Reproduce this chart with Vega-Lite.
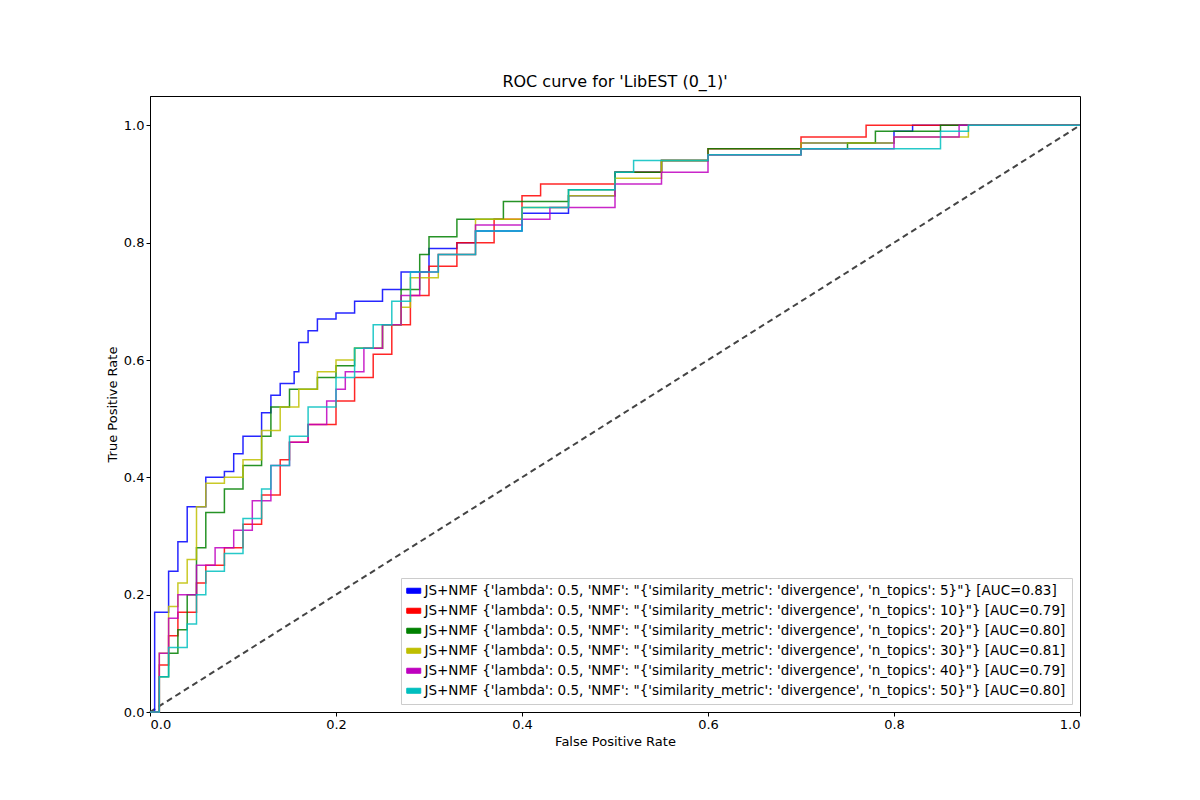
{
"$schema":"https://vega.github.io/schema/vega-lite/v6.json",
"width":930,"height":616,"autosize":"none",
"padding":{"left":150,"top":96,"right":120,"bottom":88},
"background":"white",
"title":{"text":"ROC curve for 'LibEST (0_1)'","fontSize":16,"fontWeight":"normal","font":"DejaVu Sans","offset":6},
"config":{"font":"DejaVu Sans","view":{"stroke":"black","strokeWidth":1},
"axis":{"grid":false,"labelFontSize":13,"titleFontSize":13,"titleFontWeight":"normal","domainColor":"black","tickColor":"black","labelColor":"black","tickSize":4}},
"datasets":{
"labels":[
{"n":5,"label":"JS+NMF {'lambda': 0.5, 'NMF': \"{'similarity_metric': 'divergence', 'n_topics': 5}\"} [AUC=0.83]"},
{"n":10,"label":"JS+NMF {'lambda': 0.5, 'NMF': \"{'similarity_metric': 'divergence', 'n_topics': 10}\"} [AUC=0.79]"},
{"n":20,"label":"JS+NMF {'lambda': 0.5, 'NMF': \"{'similarity_metric': 'divergence', 'n_topics': 20}\"} [AUC=0.80]"},
{"n":30,"label":"JS+NMF {'lambda': 0.5, 'NMF': \"{'similarity_metric': 'divergence', 'n_topics': 30}\"} [AUC=0.81]"},
{"n":40,"label":"JS+NMF {'lambda': 0.5, 'NMF': \"{'similarity_metric': 'divergence', 'n_topics': 40}\"} [AUC=0.79]"},
{"n":50,"label":"JS+NMF {'lambda': 0.5, 'NMF': \"{'similarity_metric': 'divergence', 'n_topics': 50}\"} [AUC=0.80]"}],
"roc":[
{"n":5,"x":0,"y":0},{"n":5,"x":0.005,"y":0.17},{"n":5,"x":0.02,"y":0.24},{"n":5,"x":0.03,"y":0.29},{"n":5,"x":0.04,"y":0.35},{"n":5,"x":0.06,"y":0.40},{"n":5,"x":0.08,"y":0.41},{"n":5,"x":0.09,"y":0.44},{"n":5,"x":0.1,"y":0.47},{"n":5,"x":0.12,"y":0.51},{"n":5,"x":0.13,"y":0.54},{"n":5,"x":0.14,"y":0.56},{"n":5,"x":0.155,"y":0.58},{"n":5,"x":0.16,"y":0.63},{"n":5,"x":0.17,"y":0.65},{"n":5,"x":0.18,"y":0.67},{"n":5,"x":0.2,"y":0.68},{"n":5,"x":0.22,"y":0.70},{"n":5,"x":0.25,"y":0.72},{"n":5,"x":0.27,"y":0.75},{"n":5,"x":0.3,"y":0.79},{"n":5,"x":0.33,"y":0.80},{"n":5,"x":0.35,"y":0.82},{"n":5,"x":0.4,"y":0.85},{"n":5,"x":0.45,"y":0.88},{"n":5,"x":0.5,"y":0.92},{"n":5,"x":0.55,"y":0.94},{"n":5,"x":0.6,"y":0.95},{"n":5,"x":0.7,"y":0.97},{"n":5,"x":0.8,"y":0.99},{"n":5,"x":0.82,"y":1.0},{"n":5,"x":1,"y":1},
{"n":10,"x":0,"y":0},{"n":10,"x":0.01,"y":0.08},{"n":10,"x":0.02,"y":0.13},{"n":10,"x":0.03,"y":0.17},{"n":10,"x":0.05,"y":0.22},{"n":10,"x":0.06,"y":0.25},{"n":10,"x":0.08,"y":0.28},{"n":10,"x":0.1,"y":0.32},{"n":10,"x":0.12,"y":0.37},{"n":10,"x":0.14,"y":0.43},{"n":10,"x":0.15,"y":0.46},{"n":10,"x":0.17,"y":0.49},{"n":10,"x":0.2,"y":0.53},{"n":10,"x":0.22,"y":0.57},{"n":10,"x":0.24,"y":0.61},{"n":10,"x":0.26,"y":0.66},{"n":10,"x":0.28,"y":0.71},{"n":10,"x":0.3,"y":0.76},{"n":10,"x":0.33,"y":0.80},{"n":10,"x":0.37,"y":0.84},{"n":10,"x":0.4,"y":0.88},{"n":10,"x":0.42,"y":0.90},{"n":10,"x":0.5,"y":0.92},{"n":10,"x":0.55,"y":0.94},{"n":10,"x":0.6,"y":0.96},{"n":10,"x":0.7,"y":0.98},{"n":10,"x":0.77,"y":1.0},{"n":10,"x":1,"y":1},
{"n":20,"x":0,"y":0},{"n":20,"x":0.01,"y":0.06},{"n":20,"x":0.02,"y":0.10},{"n":20,"x":0.03,"y":0.14},{"n":20,"x":0.04,"y":0.20},{"n":20,"x":0.05,"y":0.28},{"n":20,"x":0.06,"y":0.34},{"n":20,"x":0.08,"y":0.38},{"n":20,"x":0.1,"y":0.42},{"n":20,"x":0.12,"y":0.47},{"n":20,"x":0.13,"y":0.52},{"n":20,"x":0.15,"y":0.55},{"n":20,"x":0.18,"y":0.57},{"n":20,"x":0.2,"y":0.59},{"n":20,"x":0.22,"y":0.62},{"n":20,"x":0.25,"y":0.66},{"n":20,"x":0.27,"y":0.72},{"n":20,"x":0.29,"y":0.78},{"n":20,"x":0.3,"y":0.81},{"n":20,"x":0.33,"y":0.84},{"n":20,"x":0.38,"y":0.87},{"n":20,"x":0.42,"y":0.87},{"n":20,"x":0.45,"y":0.89},{"n":20,"x":0.5,"y":0.92},{"n":20,"x":0.55,"y":0.94},{"n":20,"x":0.6,"y":0.96},{"n":20,"x":0.75,"y":0.97},{"n":20,"x":0.78,"y":0.99},{"n":20,"x":0.85,"y":1.0},{"n":20,"x":1,"y":1},
{"n":30,"x":0,"y":0},{"n":30,"x":0.01,"y":0.1},{"n":30,"x":0.02,"y":0.18},{"n":30,"x":0.03,"y":0.22},{"n":30,"x":0.04,"y":0.26},{"n":30,"x":0.05,"y":0.35},{"n":30,"x":0.06,"y":0.39},{"n":30,"x":0.08,"y":0.40},{"n":30,"x":0.1,"y":0.43},{"n":30,"x":0.12,"y":0.48},{"n":30,"x":0.14,"y":0.52},{"n":30,"x":0.16,"y":0.55},{"n":30,"x":0.18,"y":0.58},{"n":30,"x":0.2,"y":0.60},{"n":30,"x":0.22,"y":0.62},{"n":30,"x":0.25,"y":0.66},{"n":30,"x":0.27,"y":0.69},{"n":30,"x":0.28,"y":0.74},{"n":30,"x":0.31,"y":0.78},{"n":30,"x":0.35,"y":0.84},{"n":30,"x":0.4,"y":0.86},{"n":30,"x":0.45,"y":0.88},{"n":30,"x":0.5,"y":0.91},{"n":30,"x":0.55,"y":0.94},{"n":30,"x":0.6,"y":0.95},{"n":30,"x":0.7,"y":0.97},{"n":30,"x":0.8,"y":0.98},{"n":30,"x":0.88,"y":1.0},{"n":30,"x":1,"y":1},
{"n":40,"x":0,"y":0},{"n":40,"x":0.01,"y":0.1},{"n":40,"x":0.02,"y":0.16},{"n":40,"x":0.03,"y":0.2},{"n":40,"x":0.05,"y":0.25},{"n":40,"x":0.07,"y":0.28},{"n":40,"x":0.09,"y":0.31},{"n":40,"x":0.11,"y":0.36},{"n":40,"x":0.13,"y":0.42},{"n":40,"x":0.15,"y":0.46},{"n":40,"x":0.17,"y":0.49},{"n":40,"x":0.19,"y":0.53},{"n":40,"x":0.2,"y":0.55},{"n":40,"x":0.21,"y":0.58},{"n":40,"x":0.23,"y":0.62},{"n":40,"x":0.25,"y":0.66},{"n":40,"x":0.27,"y":0.71},{"n":40,"x":0.29,"y":0.75},{"n":40,"x":0.31,"y":0.78},{"n":40,"x":0.35,"y":0.83},{"n":40,"x":0.4,"y":0.84},{"n":40,"x":0.43,"y":0.86},{"n":40,"x":0.5,"y":0.90},{"n":40,"x":0.55,"y":0.92},{"n":40,"x":0.6,"y":0.95},{"n":40,"x":0.7,"y":0.96},{"n":40,"x":0.8,"y":0.98},{"n":40,"x":0.87,"y":1.0},{"n":40,"x":1,"y":1},
{"n":50,"x":0,"y":0},{"n":50,"x":0.01,"y":0.06},{"n":50,"x":0.02,"y":0.11},{"n":50,"x":0.04,"y":0.15},{"n":50,"x":0.05,"y":0.2},{"n":50,"x":0.06,"y":0.24},{"n":50,"x":0.08,"y":0.27},{"n":50,"x":0.1,"y":0.33},{"n":50,"x":0.12,"y":0.38},{"n":50,"x":0.13,"y":0.42},{"n":50,"x":0.15,"y":0.47},{"n":50,"x":0.17,"y":0.52},{"n":50,"x":0.2,"y":0.57},{"n":50,"x":0.22,"y":0.62},{"n":50,"x":0.24,"y":0.66},{"n":50,"x":0.26,"y":0.70},{"n":50,"x":0.28,"y":0.75},{"n":50,"x":0.31,"y":0.78},{"n":50,"x":0.35,"y":0.82},{"n":50,"x":0.4,"y":0.86},{"n":50,"x":0.45,"y":0.89},{"n":50,"x":0.5,"y":0.92},{"n":50,"x":0.52,"y":0.94},{"n":50,"x":0.6,"y":0.95},{"n":50,"x":0.7,"y":0.96},{"n":50,"x":0.85,"y":0.99},{"n":50,"x":0.88,"y":1.0},{"n":50,"x":1,"y":1}],
"diag":[{"x":0,"y":0},{"x":1,"y":1}]},
"layer":[
{"data":{"name":"diag"},"mark":{"type":"line","color":"#444444","strokeDash":[6,4],"strokeWidth":2},
 "encoding":{"x":{"field":"x","type":"quantitative"},"y":{"field":"y","type":"quantitative"}}},
{"data":{"name":"roc"},
 "transform":[{"lookup":"n","from":{"data":{"name":"labels"},"key":"n","fields":["label"]}}],
 "mark":{"type":"line","interpolate":"step-after","strokeWidth":1.5,"opacity":0.85},
 "encoding":{
  "x":{"field":"x","type":"quantitative","scale":{"domain":[0,1],"nice":false},"axis":{"title":"False Positive Rate","values":[0,0.2,0.4,0.6,0.8,1.0],"format":".1f"}},
  "y":{"field":"y","type":"quantitative","scale":{"domain":[0,1.05],"nice":false},"axis":{"title":"True Positive Rate","values":[0,0.2,0.4,0.6,0.8,1.0],"format":".1f"}},
  "detail":{"field":"n"},
  "color":{"field":"label","type":"nominal","sort":{"field":"n"},
   "scale":{"range":["#0000ff","#ff0000","#008000","#bfbf00","#bf00bf","#00bfbf"]},
   "legend":{"title":null,"orient":"bottom-right","symbolType":"M-1.4,-0.5L1.4,-0.5L1.4,0.5L-1.4,0.5Z","symbolSize":100,"symbolStrokeWidth":1,"symbolOpacity":1,"labelFontSize":13.5,"labelLimit":800,"fillColor":"white","strokeColor":"#cccccc","padding":6,"rowPadding":5,"offset":8,"labelColor":"black",
    "encode":{"symbols":{"update":{"fill":{"scale":"color","field":"value"},"fillOpacity":{"value":1}}}}}}}}
]}
